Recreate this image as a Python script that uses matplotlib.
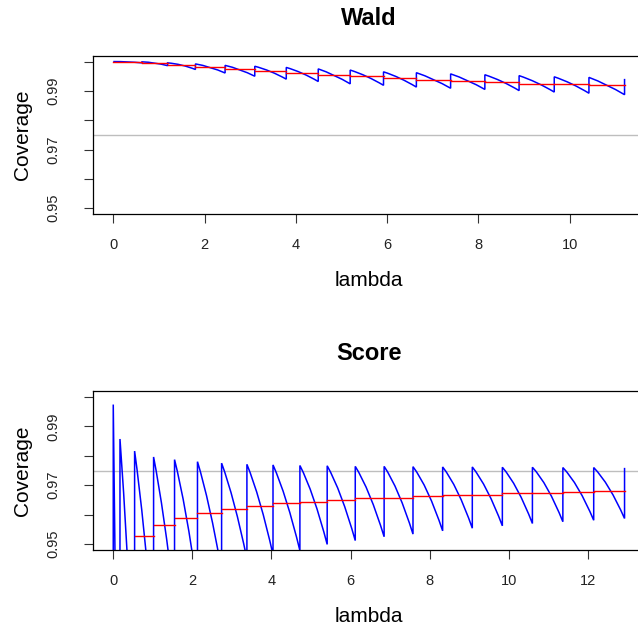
import numpy as np
import matplotlib
matplotlib.use("Agg")
import matplotlib.pyplot as plt
from matplotlib.path import Path
from matplotlib.patches import PathPatch

plt.rcParams['font.family'] = ['Liberation Sans', 'DejaVu Sans']

# Wald interval: lambda values where the coverage jumps (last one is the end of the grid)
wald_jumps = [0.00, 0.63, 1.19, 1.80, 2.45, 3.10, 3.79, 4.49, 5.19, 5.92,
              6.64, 7.39, 8.14, 8.89, 9.66, 10.42, 11.20]
# coverage right after each jump (last value = coverage at the end of the grid)
wald_top = [1.0000, 0.9999, 0.99955, 0.9992, 0.9987, 0.9984, 0.9980, 0.9975, 0.9971,
            0.9965, 0.9962, 0.9958, 0.9955, 0.9952, 0.9948, 0.9946, 0.9941]
# coverage half way along each tooth
wald_mid = [0.9999, 0.9995, 0.9988, 0.9980, 0.9972, 0.9966, 0.9960, 0.9953,
            0.9949, 0.9943, 0.9939, 0.9935, 0.9932, 0.9928, 0.9924, 0.9920]
# coverage just before the next jump
wald_end = [0.99955, 0.9986, 0.9973, 0.9961, 0.9950, 0.9940, 0.9932, 0.9924,
            0.9919, 0.9913, 0.9909, 0.9905, 0.9901, 0.9896, 0.9892, 0.9887]
# average coverage on each tooth
wald_avg = [0.9999, 0.9995, 0.9988, 0.9982, 0.9975, 0.9967, 0.9961, 0.9954,
            0.9950, 0.9943, 0.9938, 0.9934, 0.9929, 0.9925, 0.9922, 0.9919]

# Score interval
score_start = 0.93
score_jumps = [0.00, 0.17, 0.54, 1.02, 1.55, 2.13, 2.74, 3.38, 4.04, 4.72, 5.41,
               6.12, 6.85, 7.58, 8.33, 9.08, 9.84, 10.60, 11.37, 12.15, 12.93]
score_top = [0.9974, 0.9857, 0.9816, 0.9796, 0.9787, 0.9780, 0.9775, 0.9771, 0.9769,
             0.9767, 0.9766, 0.9764, 0.9764, 0.9763, 0.9762, 0.9762, 0.9761, 0.9761,
             0.9760, 0.9760, 0.9759]
score_mid = [0.900, 0.947, 0.954, 0.958, 0.960, 0.962, 0.9635, 0.964, 0.9645, 0.9655,
             0.966, 0.9665, 0.967, 0.9675, 0.9678, 0.968, 0.9684, 0.9687, 0.9688, 0.969]
score_end = [0.80, 0.90, 0.918, 0.930, 0.935, 0.941, 0.945, 0.9464, 0.9478, 0.9499,
             0.9512, 0.9525, 0.9534, 0.9545, 0.9554, 0.9562, 0.9570, 0.9576, 0.9581, 0.9587]
score_avg = [np.nan, np.nan, 0.9527, 0.9565, 0.9589, 0.9607, 0.9620, 0.9629, 0.9638,
             0.9643, 0.9649, 0.9655, 0.9658, 0.9663, 0.9666, 0.9668, 0.9672, 0.9674,
             0.9676, 0.9679]

nominal = 0.975
ytick_vals = [0.95, 0.96, 0.97, 0.98, 0.99, 1.00]
ytick_labels = ["0.95", "", "0.97", "", "0.99", ""]


def sawtooth_path(jumps, top, mid, end, start=None):
    # each tooth is a quadratic curve from its top through its middle value
    # down to the value just before the next jump
    verts, codes = [], []
    if start is not None:
        verts.append((jumps[0], start))
        codes.append(Path.MOVETO)
    for i in range(len(jumps) - 1):
        x0, x1 = jumps[i], jumps[i + 1]
        ctrl_y = 2 * mid[i] - 0.5 * (top[i] + end[i])
        verts.append((x0, top[i]))
        codes.append(Path.MOVETO if not verts[:-1] else Path.LINETO)
        verts += [((x0 + x1) / 2, ctrl_y), (x1, end[i])]
        codes += [Path.CURVE3, Path.CURVE3]
    verts.append((jumps[-1], top[-1]))
    codes.append(Path.LINETO)
    return Path(verts, codes)


def steps(jumps, avg):
    xs, ys = [], []
    for i in range(len(avg)):
        xs += [jumps[i], jumps[i + 1], np.nan]
        ys += [avg[i], avg[i], np.nan]
    return xs, ys


def panel(ax, title, jumps, top, mid, end, avg, xticks, start=None):
    ax.axhline(nominal, color="#bebebe", lw=1.0, zorder=1)
    path = sawtooth_path(jumps, top, mid, end, start)
    ax.add_patch(PathPatch(path, fill=False, edgecolor="#0000ff", lw=1.1,
                           joinstyle="miter", zorder=2))
    rx, ry = steps(jumps, avg)
    ax.plot(rx, ry, color="#ff0000", lw=1.0, zorder=3)

    pad = 0.04 * (jumps[-1] - jumps[0])
    ax.set_xlim(jumps[0] - pad, jumps[-1] + pad)
    ax.set_ylim(0.948, 1.002)
    ax.set_xticks(xticks)
    ax.set_yticks(ytick_vals)
    ax.set_yticklabels(ytick_labels, rotation=90, va="center")
    ax.tick_params(axis="both", direction="out", length=6.5, width=0.8,
                   colors="#333333", labelcolor="#222222", labelsize=10.5)
    ax.tick_params(axis="x", pad=10.5)
    ax.tick_params(axis="y", pad=17)
    for s in ax.spines.values():
        s.set_linewidth(0.9)
    ax.set_title(title, fontsize=17, fontweight="bold", pad=22)
    ax.set_xlabel("lambda", fontsize=15, labelpad=14)
    ax.set_ylabel("Coverage", fontsize=15, labelpad=10)


fig = plt.figure(figsize=(6.38, 6.30), dpi=100)
W, H = 638.0, 630.0
left, right = 92.8, 645.0
ax1 = fig.add_axes([left / W, (H - 214) / H, (right - left) / W, (214 - 55.7) / H])
ax2 = fig.add_axes([left / W, (H - 550) / H, (right - left) / W, (550 - 391) / H])

panel(ax1, "Wald", wald_jumps, wald_top, wald_mid, wald_end, wald_avg,
      [0, 2, 4, 6, 8, 10])
panel(ax2, "Score", score_jumps, score_top, score_mid, score_end, score_avg,
      [0, 2, 4, 6, 8, 10, 12], start=score_start)

fig.savefig("out.png", dpi=100)
